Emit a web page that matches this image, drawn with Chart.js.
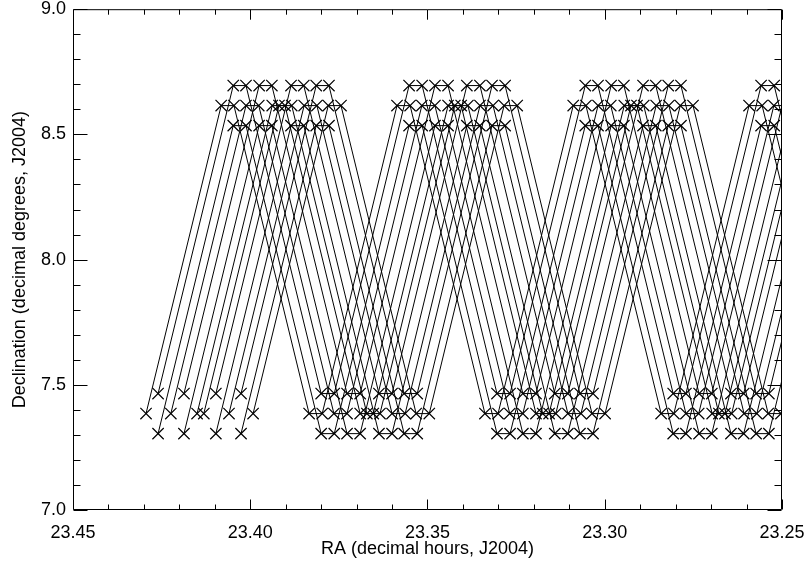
<!DOCTYPE html>
<html>
<head>
<meta charset="utf-8">
<title>RA / Dec scan</title>
<script src="https://cdn.jsdelivr.net/npm/chart.js@4.4.0/dist/chart.umd.min.js"></script>
<style>
  body { margin: 0; background: #fff; }
  #wrap { width: 809px; height: 564px; }
</style>
</head>
<body>
<div id="wrap"><canvas id="myChart" width="809" height="564"></canvas></div>
<script>
// RA (hours) of every point along one beam track.
// each track starts at the bottom, climbs, steps over, drops, steps over, ...
const raH1Mid1 = [23.4294, 23.4082, 23.4046, 23.3834, 23.3797, 23.3586, 23.3549, 23.3338, 23.3301, 23.3089, 23.3053, 23.2841, 23.2805, 23.2593, 23.2556, 23.2345];
const raH1Edge1 = [23.4260, 23.4048, 23.4012, 23.3800, 23.3763, 23.3552, 23.3515, 23.3304, 23.3267, 23.3055, 23.3019, 23.2807, 23.2771, 23.2559, 23.2522, 23.2311];
const raH1Mid2 = [23.4224, 23.4012, 23.3976, 23.3764, 23.3727, 23.3516, 23.3479, 23.3268, 23.3231, 23.3019, 23.2983, 23.2771, 23.2735, 23.2523, 23.2486, 23.2275];
const raH1Edge2 = [23.4187, 23.3975, 23.3939, 23.3727, 23.3690, 23.3479, 23.3442, 23.3231, 23.3194, 23.2982, 23.2946, 23.2734, 23.2698, 23.2486, 23.2449, 23.2238];
const raH1Mid3 = [23.4150, 23.3938, 23.3902, 23.3690, 23.3653, 23.3442, 23.3405, 23.3194, 23.3157, 23.2945, 23.2909, 23.2697, 23.2661, 23.2449, 23.2412, 23.2201];
const raH2Mid1 = [23.4131, 23.3919, 23.3883, 23.3671, 23.3634, 23.3423, 23.3386, 23.3175, 23.3138, 23.2926, 23.2890, 23.2678, 23.2642, 23.2430, 23.2393, 23.2182];
const raH2Edge1 = [23.4097, 23.3885, 23.3849, 23.3637, 23.3600, 23.3389, 23.3352, 23.3141, 23.3104, 23.2892, 23.2856, 23.2644, 23.2608, 23.2396, 23.2359, 23.2148];
const raH2Mid2 = [23.4060, 23.3848, 23.3812, 23.3600, 23.3563, 23.3352, 23.3315, 23.3104, 23.3067, 23.2855, 23.2819, 23.2607, 23.2571, 23.2359, 23.2322, 23.2111];
const raH2Edge2 = [23.4026, 23.3814, 23.3778, 23.3566, 23.3529, 23.3318, 23.3281, 23.3070, 23.3033, 23.2821, 23.2785, 23.2573, 23.2537, 23.2325, 23.2288, 23.2077];
const raH2Mid3 = [23.3992, 23.3780, 23.3744, 23.3532, 23.3495, 23.3284, 23.3247, 23.3036, 23.2999, 23.2787, 23.2751, 23.2539, 23.2503, 23.2291, 23.2254, 23.2043];

// declination (deg) at the bottom and at the top of the swing, per beam row
const decUpper = [7.465, 8.695];
const decMid = [7.385, 8.615];
const decLower = [7.305, 8.535];
// 0 = bottom of swing, 1 = top of swing, for each point of a track
const swingSide = [0, 1, 1, 0, 0, 1, 1, 0, 0, 1, 1, 0, 0, 1, 1, 0];

const tracks = [
  [raH1Mid1, decMid], [raH1Edge1, decUpper], [raH1Edge1, decLower],
  [raH1Mid2, decMid], [raH1Edge2, decUpper], [raH1Edge2, decLower],
  [raH1Mid3, decMid],
  [raH2Mid1, decMid], [raH2Edge1, decUpper], [raH2Edge1, decLower],
  [raH2Mid2, decMid], [raH2Edge2, decUpper], [raH2Edge2, decLower],
  [raH2Mid3, decMid]
];

const xMajorTicks = [23.45, 23.40, 23.35, 23.30, 23.25];
const xMinorTicks = [23.44, 23.43, 23.42, 23.41, 23.39, 23.38, 23.37, 23.36, 23.34, 23.33, 23.32, 23.31, 23.29, 23.28, 23.27, 23.26];
const yMajorTicks = [7.0, 7.5, 8.0, 8.5, 9.0];
const yMinorTicks = [7.1, 7.2, 7.3, 7.4, 7.6, 7.7, 7.8, 7.9, 8.1, 8.2, 8.3, 8.4, 8.6, 8.7, 8.8, 8.9];

const datasets = tracks.map(([ra, dec]) => {
  return {
    data: ra.map((r, i) => ({ x: r, y: dec[swingSide[i]] })),
    showLine: true,
    borderColor: '#000',
    borderWidth: 1,
    pointStyle: 'crossRot',
    pointRadius: 8,
    pointBorderColor: '#000',
    pointBorderWidth: 1.2,
    pointBackgroundColor: '#000'
  }
});

// IDL style box: frame plus inward ticks on all four sides
const boxTicks = {
  id: 'boxTicks',
  afterDatasetsDraw(chart) {
    const { ctx, chartArea: a, scales } = chart;
    const L = a.left + 0.5, R = a.right - 0.5, T = a.top + 0.5, B = a.bottom - 0.5;
    ctx.save();
    ctx.strokeStyle = '#000';
    ctx.lineWidth = 1;
    ctx.beginPath();
    ctx.rect(L, T, R - L, B - T);
    const xt = (v, len) => {
      const px = Math.round(scales.x.getPixelForValue(v)) + 0.5;
      ctx.moveTo(px, B); ctx.lineTo(px, B - len);
      ctx.moveTo(px, T); ctx.lineTo(px, T + len);
    };
    const yt = (v, len) => {
      const py = Math.round(scales.y.getPixelForValue(v)) + 0.5;
      ctx.moveTo(L, py); ctx.lineTo(L + len, py);
      ctx.moveTo(R, py); ctx.lineTo(R - len, py);
    };
    xMajorTicks.forEach((v) => xt(v, 10));
    xMinorTicks.forEach((v) => xt(v, 5));
    yMajorTicks.forEach((v) => yt(v, 14));
    yMinorTicks.forEach((v) => yt(v, 7));
    ctx.stroke();
    ctx.restore();
  }
};

const font = { family: 'Liberation Sans', size: 18 };

const config = {
  type: 'scatter',
  data: { datasets: datasets },
  options: {
    responsive: false,
    animation: false,
    events: [],
    layout: { padding: { top: 8, right: 27, left: 0, bottom: 0 } },
    plugins: { legend: { display: false }, tooltip: { enabled: false } },
    scales: {
      x: {
        type: 'linear',
        reverse: true,
        min: 23.25,
        max: 23.45,
        border: { display: false },
        grid: { display: false, drawTicks: false },
        afterBuildTicks: (s) => { s.ticks = xMajorTicks.map((v) => ({ value: v })); },
        afterFit: (s) => { s.height = 54; s.paddingLeft = 0; s.paddingRight = 0; },
        ticks: { color: '#000', font: font, padding: 12, maxRotation: 0, autoSkip: false, callback: (v) => v.toFixed(2) },
        title: { display: true, text: 'RA (decimal hours, J2004)', color: '#000', font: font, padding: { top: 0, bottom: 4 } }
      },
      y: {
        type: 'linear',
        min: 7.0,
        max: 9.0,
        border: { display: false },
        grid: { display: false, drawTicks: false },
        afterBuildTicks: (s) => { s.ticks = yMajorTicks.map((v) => ({ value: v })); },
        afterFit: (s) => { s.width = 73; s.paddingTop = 0; s.paddingBottom = 0; },
        ticks: { color: '#000', font: font, padding: 7, autoSkip: false, callback: (v) => v.toFixed(1) },
        title: { display: true, text: 'Declination (decimal degrees, J2004)', color: '#000', font: font, padding: { top: 9, bottom: 0 } }
      }
    }
  },
  plugins: [boxTicks]
};

const myChart = new Chart(document.getElementById('myChart'), config);
</script>
</body>
</html>
